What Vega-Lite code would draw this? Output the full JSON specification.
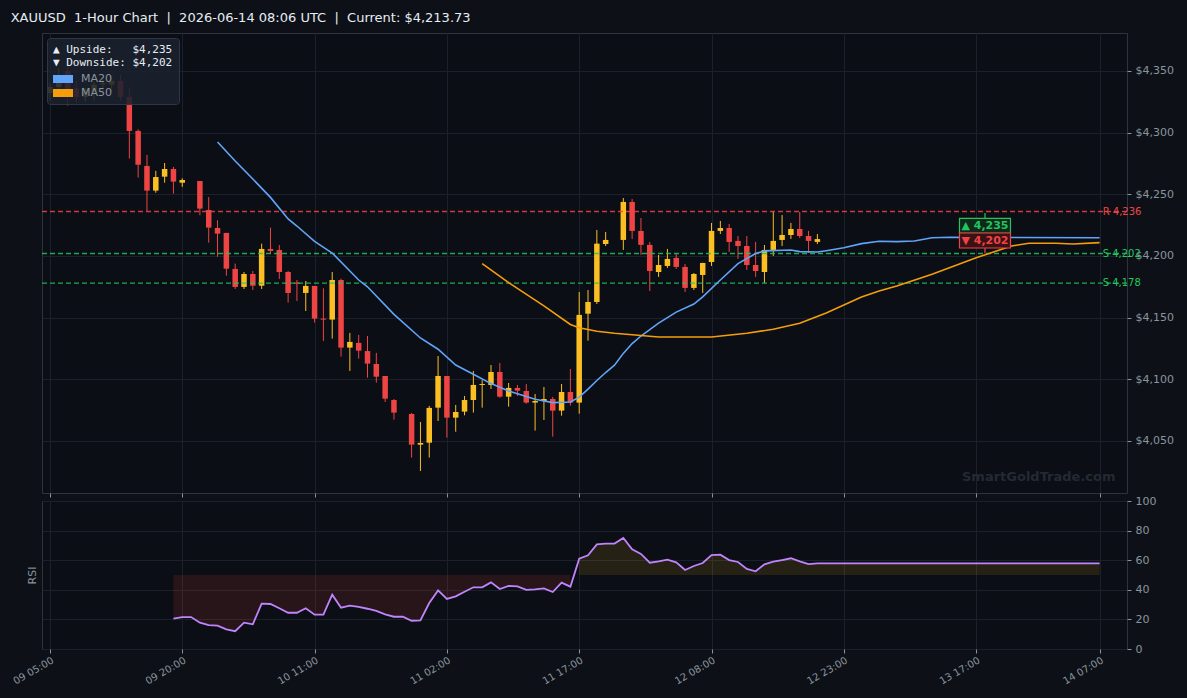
{
  "$schema": "https://vega.github.io/schema/vega-lite/v6.json",
  "background": "#0d1117",
  "padding": {"left": 10, "top": 11, "right": 13, "bottom": 11},
  "title": {"text": "XAUUSD\u00a0 1-Hour Chart\u00a0 |\u00a0 2026-06-14 08:06 UTC\u00a0 |\u00a0 Current: $4,213.73", "anchor": "start", "font": "DejaVu Sans", "fontSize": 13, "fontWeight": "normal", "color": "#e6edf3", "offset": 8},
  "config": {
    "font": "DejaVu Sans",
    "view": {"stroke": "#2d3440", "fill": "#0b0e14"},
    "axis": {"domain": false, "gridColor": "#1b212c", "gridWidth": 1, "tickColor": "#8b949e", "tickSize": 4, "labelColor": "#8b949e", "labelFont": "DejaVu Sans", "labelFontSize": 10, "titleColor": "#8b949e", "titleFont": "DejaVu Sans", "titleFontWeight": "normal"}
  },
  "datasets": {
    "candles": [
      {"i":0,"o":4332,"h":4340,"l":4326,"c":4337},
      {"i":1,"o":4337,"h":4352,"l":4330,"c":4345},
      {"i":2,"o":4350,"h":4358,"l":4322,"c":4330},
      {"i":3,"o":4336,"h":4342,"l":4324,"c":4329},
      {"i":4,"o":4329,"h":4336,"l":4325,"c":4334},
      {"i":5,"o":4333,"h":4341,"l":4326,"c":4339},
      {"i":6,"o":4339,"h":4343,"l":4333,"c":4340},
      {"i":7,"o":4339,"h":4346,"l":4333,"c":4342},
      {"i":8,"o":4342,"h":4347,"l":4326,"c":4329},
      {"i":9,"o":4329,"h":4336.5,"l":4279,"c":4301.4},
      {"i":10,"o":4301.4,"h":4302.7,"l":4263.5,"c":4274},
      {"i":11,"o":4273,"h":4282,"l":4236.5,"c":4253},
      {"i":12,"o":4253,"h":4269,"l":4251.3,"c":4264},
      {"i":13,"o":4264.3,"h":4275.4,"l":4259.4,"c":4270.5},
      {"i":14,"o":4270.5,"h":4272.2,"l":4250.5,"c":4260.3},
      {"i":15,"o":4259.4,"h":4263,"l":4256,"c":4261.6},
      {"i":17,"o":4260.8,"h":4260.8,"l":4233,"c":4238.4},
      {"i":18,"o":4237.3,"h":4247.8,"l":4210.8,"c":4223},
      {"i":19,"o":4222.7,"h":4228.9,"l":4199.4,"c":4218.1},
      {"i":20,"o":4218.7,"h":4218.7,"l":4184,"c":4189.7},
      {"i":21,"o":4189.5,"h":4193.8,"l":4173.2,"c":4174.9},
      {"i":22,"o":4174.9,"h":4187,"l":4173.2,"c":4185.4},
      {"i":23,"o":4185.4,"h":4187.8,"l":4172.4,"c":4175.9},
      {"i":24,"o":4175.9,"h":4210,"l":4173.2,"c":4205.7},
      {"i":25,"o":4205.7,"h":4223,"l":4201.9,"c":4204.1},
      {"i":26,"o":4204.9,"h":4208.9,"l":4181.4,"c":4187},
      {"i":27,"o":4187,"h":4187.8,"l":4162.2,"c":4170},
      {"i":28,"o":4178.5,"h":4180.5,"l":4163.5,"c":4177.5},
      {"i":29,"o":4170,"h":4179.7,"l":4155.4,"c":4175.7},
      {"i":30,"o":4175.7,"h":4175.7,"l":4146,"c":4149.2},
      {"i":31,"o":4149.2,"h":4173.8,"l":4131.1,"c":4148.4},
      {"i":32,"o":4148.4,"h":4187,"l":4133,"c":4180.5},
      {"i":33,"o":4180.5,"h":4181.6,"l":4118.4,"c":4125.7},
      {"i":34,"o":4125.7,"h":4137.6,"l":4106.8,"c":4130.3},
      {"i":35,"o":4129.5,"h":4136,"l":4116.7,"c":4123.2},
      {"i":36,"o":4122.9,"h":4135.1,"l":4101.3,"c":4112.7},
      {"i":37,"o":4112.4,"h":4121.4,"l":4097.3,"c":4102.1},
      {"i":38,"o":4102.7,"h":4102.7,"l":4081.6,"c":4084.3},
      {"i":39,"o":4083.2,"h":4084,"l":4067.3,"c":4073},
      {"i":41,"o":4071.9,"h":4072.7,"l":4036.5,"c":4047},
      {"i":42,"o":4047,"h":4065.4,"l":4025.7,"c":4048.4},
      {"i":43,"o":4048.6,"h":4078.4,"l":4036.5,"c":4076.8},
      {"i":44,"o":4077,"h":4118.9,"l":4066.2,"c":4102.7},
      {"i":45,"o":4102.7,"h":4102.7,"l":4052.7,"c":4068.9},
      {"i":46,"o":4068.9,"h":4079.2,"l":4057.5,"c":4073.5},
      {"i":47,"o":4073.8,"h":4086.5,"l":4070.8,"c":4083.2},
      {"i":48,"o":4083.2,"h":4106.8,"l":4073,"c":4095.4},
      {"i":49,"o":4095.4,"h":4099.3,"l":4077,"c":4096.2},
      {"i":50,"o":4095.4,"h":4111.6,"l":4092.2,"c":4105.9},
      {"i":51,"o":4105.9,"h":4113.2,"l":4085,"c":4085.9},
      {"i":52,"o":4085.9,"h":4097,"l":4077.8,"c":4093},
      {"i":53,"o":4093,"h":4095.4,"l":4086.5,"c":4090.8},
      {"i":54,"o":4090.5,"h":4096.2,"l":4080.2,"c":4081.1},
      {"i":55,"o":4081.1,"h":4088.1,"l":4058.4,"c":4082.4},
      {"i":56,"o":4082.4,"h":4093.8,"l":4067,"c":4084},
      {"i":57,"o":4084,"h":4085.7,"l":4053.5,"c":4074.6},
      {"i":58,"o":4074.6,"h":4096.2,"l":4070.5,"c":4089.7},
      {"i":59,"o":4089.7,"h":4108.4,"l":4078.6,"c":4081.1},
      {"i":60,"o":4081.1,"h":4170.8,"l":4072.1,"c":4152.2},
      {"i":61,"o":4153.2,"h":4172.4,"l":4131.3,"c":4162.7},
      {"i":62,"o":4162.7,"h":4221.1,"l":4161,"c":4210},
      {"i":63,"o":4209.7,"h":4219.5,"l":4208.1,"c":4213},
      {"i":65,"o":4213,"h":4247,"l":4204.9,"c":4243.8},
      {"i":66,"o":4243.8,"h":4246.2,"l":4213.8,"c":4220.3},
      {"i":67,"o":4220.3,"h":4230.8,"l":4200.8,"c":4209},
      {"i":68,"o":4209,"h":4211.4,"l":4171.6,"c":4187.8},
      {"i":69,"o":4187,"h":4200.8,"l":4183,"c":4192.7},
      {"i":70,"o":4191.9,"h":4205.7,"l":4190.3,"c":4197.6},
      {"i":71,"o":4198.4,"h":4201.6,"l":4189.5,"c":4191.1},
      {"i":72,"o":4191.1,"h":4193.5,"l":4170.8,"c":4174.1},
      {"i":73,"o":4174.1,"h":4186.2,"l":4172.4,"c":4185.4},
      {"i":74,"o":4184.6,"h":4194.5,"l":4170,"c":4194.3},
      {"i":75,"o":4195.1,"h":4226.8,"l":4191.9,"c":4220.3},
      {"i":76,"o":4220.3,"h":4228.4,"l":4217.8,"c":4222.7},
      {"i":77,"o":4222.7,"h":4226,"l":4203.3,"c":4211.4},
      {"i":78,"o":4212.2,"h":4216.2,"l":4197.6,"c":4208.1},
      {"i":79,"o":4208.1,"h":4216.2,"l":4188.7,"c":4192.7},
      {"i":80,"o":4192.7,"h":4211.4,"l":4183,"c":4187.8},
      {"i":81,"o":4187,"h":4208.9,"l":4178.1,"c":4204.9},
      {"i":82,"o":4204.9,"h":4236.5,"l":4200,"c":4212.2},
      {"i":83,"o":4213,"h":4233.2,"l":4208.1,"c":4217},
      {"i":84,"o":4217,"h":4226.8,"l":4213.8,"c":4221.9},
      {"i":85,"o":4221.9,"h":4235.7,"l":4214.6,"c":4216.2},
      {"i":86,"o":4216.2,"h":4220.3,"l":4202.4,"c":4212.2},
      {"i":87,"o":4211.4,"h":4217.8,"l":4209.7,"c":4213.7}
    ],
    "ma": [
      {"i":19,"s":"MA20","v":4292.4},{"i":21,"s":"MA20","v":4277},{"i":23,"s":"MA20","v":4262.4},{"i":25,"s":"MA20","v":4247.5},
      {"i":27,"s":"MA20","v":4230},{"i":28,"s":"MA20","v":4224.3},{"i":30,"s":"MA20","v":4211.8},{"i":32,"s":"MA20","v":4202.4},
      {"i":35,"s":"MA20","v":4180.5},{"i":36,"s":"MA20","v":4175},{"i":39,"s":"MA20","v":4152.7},{"i":42,"s":"MA20","v":4133.5},
      {"i":44,"s":"MA20","v":4124.4},{"i":46,"s":"MA20","v":4111.6},{"i":48,"s":"MA20","v":4104.1},{"i":50,"s":"MA20","v":4096.5},
      {"i":52,"s":"MA20","v":4090.5},{"i":55,"s":"MA20","v":4083.8},{"i":57,"s":"MA20","v":4081.1},{"i":59,"s":"MA20","v":4081.6},
      {"i":60,"s":"MA20","v":4085.5},{"i":61,"s":"MA20","v":4092},{"i":62,"s":"MA20","v":4099},{"i":63,"s":"MA20","v":4105.5},
      {"i":64,"s":"MA20","v":4111.4},{"i":65,"s":"MA20","v":4121},{"i":66,"s":"MA20","v":4129},{"i":67,"s":"MA20","v":4135.1},
      {"i":69,"s":"MA20","v":4145.5},{"i":71,"s":"MA20","v":4154.5},{"i":73,"s":"MA20","v":4161},{"i":74,"s":"MA20","v":4166.8},
      {"i":76,"s":"MA20","v":4180.5},{"i":78,"s":"MA20","v":4193.8},{"i":80,"s":"MA20","v":4202},{"i":81,"s":"MA20","v":4204.1},
      {"i":84,"s":"MA20","v":4204.9},{"i":85,"s":"MA20","v":4203.5},{"i":87,"s":"MA20","v":4203.2},{"i":88,"s":"MA20","v":4204.3},
      {"i":90,"s":"MA20","v":4206.7},{"i":92,"s":"MA20","v":4210},{"i":94,"s":"MA20","v":4211.9},{"i":96,"s":"MA20","v":4211.6},
      {"i":98,"s":"MA20","v":4212.2},{"i":100,"s":"MA20","v":4214.8},{"i":102,"s":"MA20","v":4215.2},{"i":119,"s":"MA20","v":4214.8},
      {"i":49,"s":"MA50","v":4193.8},{"i":52,"s":"MA50","v":4178.4},{"i":56,"s":"MA50","v":4159.5},{"i":59,"s":"MA50","v":4144.5},
      {"i":60,"s":"MA50","v":4141.8},{"i":62,"s":"MA50","v":4139},{"i":64,"s":"MA50","v":4137.3},{"i":69,"s":"MA50","v":4134.3},
      {"i":75,"s":"MA50","v":4134.3},{"i":79,"s":"MA50","v":4137.3},{"i":82,"s":"MA50","v":4140.6},{"i":85,"s":"MA50","v":4145.4},
      {"i":88,"s":"MA50","v":4153.8},{"i":92,"s":"MA50","v":4166.8},{"i":94,"s":"MA50","v":4171.6},{"i":96,"s":"MA50","v":4175.7},
      {"i":100,"s":"MA50","v":4185.2},{"i":105,"s":"MA50","v":4198.5},{"i":109,"s":"MA50","v":4208.1},{"i":111,"s":"MA50","v":4210.3},
      {"i":114,"s":"MA50","v":4210.3},{"i":116,"s":"MA50","v":4209.7},{"i":119,"s":"MA50","v":4210.8}
    ],
    "levels": [
      {"name":"R 4,236","v":4236,"kind":"R"},
      {"name":"S 4,202","v":4202,"kind":"S"},
      {"name":"S 4,178","v":4178,"kind":"S"}
    ],
    "targets": [
      {"t":"\u25b2 4,235","v":4235,"k":"up"},
      {"t":"\u25bc 4,202","v":4202,"k":"down"}
    ],
    "marks": [
      {"t":"SmartGoldTrade.com"}
    ],
    "rsi": [
      {"i":14,"r":20.5},{"i":15,"r":21.6},{"i":16,"r":21.6},{"i":17,"r":17.8},{"i":18,"r":16.2},{"i":19,"r":15.8},
      {"i":20,"r":13.3},{"i":21,"r":12.0},{"i":22,"r":17.8},{"i":23,"r":16.7},{"i":24,"r":30.6},{"i":25,"r":30.4},
      {"i":26,"r":27.5},{"i":27,"r":24.5},{"i":28,"r":24.5},{"i":29,"r":27.5},{"i":30,"r":23.2},{"i":31,"r":23.2},
      {"i":32,"r":36.7},{"i":33,"r":27.9},{"i":34,"r":29.3},{"i":35,"r":28.4},{"i":36,"r":27.2},{"i":37,"r":25.7},
      {"i":38,"r":23.4},{"i":39,"r":21.8},{"i":40,"r":21.8},{"i":41,"r":19.1},{"i":42,"r":19.4},{"i":43,"r":31.1},
      {"i":44,"r":39.6},{"i":45,"r":33.8},{"i":46,"r":35.6},{"i":47,"r":38.7},{"i":48,"r":41.7},{"i":49,"r":41.7},
      {"i":50,"r":45.0},{"i":51,"r":40.5},{"i":52,"r":42.6},{"i":53,"r":42.3},{"i":54,"r":39.9},{"i":55,"r":40.3},
      {"i":56,"r":41.0},{"i":57,"r":38.5},{"i":58,"r":44.8},{"i":59,"r":42.1},{"i":60,"r":61.0},{"i":61,"r":63.3},
      {"i":62,"r":70.7},{"i":63,"r":71.2},{"i":64,"r":71.2},{"i":65,"r":75.0},{"i":66,"r":67.3},{"i":67,"r":64.2},
      {"i":68,"r":58.3},{"i":69,"r":59.2},{"i":70,"r":60.4},{"i":71,"r":58.6},{"i":72,"r":53.4},{"i":73,"r":56.1},
      {"i":74,"r":58.1},{"i":75,"r":63.5},{"i":76,"r":63.7},{"i":77,"r":60.1},{"i":78,"r":58.8},{"i":79,"r":54.1},
      {"i":80,"r":52.5},{"i":81,"r":57.2},{"i":82,"r":59.0},{"i":83,"r":60.1},{"i":84,"r":61.3},{"i":85,"r":59.2},
      {"i":86,"r":57.4},{"i":87,"r":57.8},{"i":119,"r":57.8}
    ]
  },
  "spacing": 8,
  "bounds": "flush",
  "vconcat": [
    {
      "width": 1085,
      "height": 460,
      "layer": [
        {
          "data": {"name": "marks"},
          "mark": {"type": "text", "align": "right", "baseline": "middle", "fontSize": 13, "fontWeight": "bold", "color": "#232a33"},
          "encoding": {"x": {"datum": 120.8}, "y": {"datum": 4021}, "text": {"field": "t"}}
        },
        {
          "data": {"name": "candles"},
          "mark": {"type": "rule", "strokeWidth": 1},
          "encoding": {
            "x": {"field": "i", "type": "quantitative", "scale": {"domain": [-0.9, 122.1], "nice": false, "zero": false, "padding": 0},
                  "axis": {"values": [0,15,30,45,60,75,90,105,119], "labels": false, "grid": true, "title": null, "tickSize": 4}},
            "y": {"field": "l", "type": "quantitative", "scale": {"domain": [4007.8, 4380.8], "nice": false, "zero": false, "padding": 0},
                  "axis": {"orient": "right", "values": [4050,4100,4150,4200,4250,4300,4350], "format": "$,.0f", "grid": true, "title": null, "labelFontSize": 11, "labelPadding": 4}},
            "y2": {"field": "h"},
            "color": {"condition": {"test": "datum.c >= datum.o", "value": "#fbbf24"}, "value": "#ef4444"}
          }
        },
        {
          "data": {"name": "candles"},
          "mark": {"type": "bar", "size": 5.5},
          "encoding": {
            "x": {"field": "i", "type": "quantitative"},
            "y": {"field": "o", "type": "quantitative"},
            "y2": {"field": "c"},
            "color": {"condition": {"test": "datum.c >= datum.o", "value": "#fbbf24"}, "value": "#ef4444"}
          }
        },
        {
          "data": {"name": "levels"},
          "mark": {"type": "rule", "strokeDash": [5, 3], "strokeWidth": 1.4, "opacity": 0.85},
          "encoding": {
            "y": {"field": "v", "type": "quantitative"},
            "color": {"condition": {"test": "datum.kind == 'R'", "value": "#ef4444"}, "value": "#22c55e"}
          }
        },
        {
          "data": {"name": "ma"},
          "mark": {"type": "line", "strokeWidth": 1.6},
          "encoding": {
            "x": {"field": "i", "type": "quantitative"},
            "y": {"field": "v", "type": "quantitative"},
            "color": {"field": "s", "type": "nominal",
                      "scale": {"domain": ["MA20", "MA50"], "range": ["#60a5fa", "#f59e0b"]},
                      "legend": {"orient": "top-left", "offset": 5,
                                 "title": ["\u25b2 Upside:\u00a0\u00a0\u00a0$4,235", "\u25bc Downside:\u00a0$4,202"],
                                 "titleFont": "DejaVu Sans Mono", "titleFontSize": 11, "titleFontWeight": "normal", "titleColor": "#e6edf3", "titleLineHeight": 13, "titlePadding": 5,
                                 "labelColor": "#8b949e", "labelFontSize": 11, "labelFont": "DejaVu Sans", "labelOffset": 16,
                                 "symbolType": "M-1,-0.667H2.333V0.667H-1Z", "symbolSize": 144, "symbolStrokeWidth": 0, "symbolOpacity": 1,
                                 "fillColor": "rgba(26,33,45,0.88)", "strokeColor": "#2d3748", "padding": 6, "cornerRadius": 3, "rowPadding": 3,
                                 "encode": {"symbols": {"update": {"fill": {"scale": "color", "field": "value"}, "strokeWidth": {"value": 0}}}}}}
          }
        },
        {
          "data": {"name": "levels"},
          "mark": {"type": "text", "align": "left", "baseline": "middle", "dx": 3, "fontSize": 10},
          "encoding": {
            "x": {"datum": 119},
            "y": {"field": "v", "type": "quantitative"},
            "text": {"field": "name"},
            "color": {"condition": {"test": "datum.kind == 'R'", "value": "#ef4444"}, "value": "#22c55e"}
          }
        },
        {
          "data": {"name": "targets"},
          "transform": [{"filter": "datum.k == 'up'"}],
          "mark": {"type": "point", "shape": "M-1,-0.294H1V0.294H-1Z M0,-0.294V-0.5", "size": 2601, "filled": true, "fill": "#0f2a1c", "stroke": "#22c55e", "strokeWidth": 1.2, "opacity": 1, "yOffset": 13},
          "encoding": {"x": {"datum": 106}, "y": {"field": "v", "type": "quantitative"}}
        },
        {
          "data": {"name": "targets"},
          "transform": [{"filter": "datum.k == 'up'"}],
          "mark": {"type": "text", "align": "center", "baseline": "middle", "dy": 13, "fontSize": 11, "fontWeight": "bold", "color": "#22c55e"},
          "encoding": {"x": {"datum": 106}, "y": {"field": "v", "type": "quantitative"}, "text": {"field": "t"}}
        },
        {
          "data": {"name": "targets"},
          "transform": [{"filter": "datum.k == 'down'"}],
          "mark": {"type": "point", "shape": "M-1,-0.294H1V0.294H-1Z M0,0.294V0.5", "size": 2601, "filled": true, "fill": "#3a1215", "stroke": "#ef4444", "strokeWidth": 1.2, "opacity": 1, "yOffset": -13},
          "encoding": {"x": {"datum": 106}, "y": {"field": "v", "type": "quantitative"}}
        },
        {
          "data": {"name": "targets"},
          "transform": [{"filter": "datum.k == 'down'"}],
          "mark": {"type": "text", "align": "center", "baseline": "middle", "dy": -13, "fontSize": 11, "fontWeight": "bold", "color": "#ef4444"},
          "encoding": {"x": {"datum": 106}, "y": {"field": "v", "type": "quantitative"}, "text": {"field": "t"}}
        }
      ]
    },
    {
      "width": 1085,
      "height": 148,
      "resolve": {"axis": {"y": "independent"}},
      "layer": [
        {
          "data": {"name": "rsi"},
          "transform": [{"filter": "datum.i <= 59"}],
          "mark": {"type": "area", "color": "#ef4444", "opacity": 0.13},
          "encoding": {
            "x": {"field": "i", "type": "quantitative", "scale": {"domain": [-0.9, 122.1], "nice": false, "zero": false, "padding": 0},
                  "axis": {"values": [0,15,30,45,60,75,90,105,119], "grid": true, "title": null, "tickSize": 4, "labelAngle": -30, "labelFontSize": 10, "labelPadding": 2,
                           "labelExpr": "datum.value == 0 ? '09 05:00' : datum.value == 15 ? '09 20:00' : datum.value == 30 ? '10 11:00' : datum.value == 45 ? '11 02:00' : datum.value == 60 ? '11 17:00' : datum.value == 75 ? '12 08:00' : datum.value == 90 ? '12 23:00' : datum.value == 105 ? '13 17:00' : '14 07:00'"}},
            "y": {"field": "r", "type": "quantitative", "scale": {"domain": [0, 100], "nice": false},
                  "axis": {"orient": "left", "labels": false, "ticks": false, "grid": false, "title": "RSI", "titleFontSize": 11, "titlePadding": 5}},
            "y2": {"datum": 50}
          }
        },
        {
          "data": {"name": "rsi"},
          "transform": [{"filter": "datum.i >= 60"}],
          "mark": {"type": "area", "color": "#fbbf24", "opacity": 0.11},
          "encoding": {
            "x": {"field": "i", "type": "quantitative"},
            "y": {"field": "r", "type": "quantitative",
                  "axis": {"orient": "right", "values": [0,20,40,60,80,100], "grid": true, "title": null, "labelFontSize": 11, "labelPadding": 4}},
            "y2": {"datum": 50}
          }
        },
        {
          "mark": {"type": "rule", "color": "#3b4350", "strokeWidth": 1},
          "encoding": {"y": {"datum": 50, "axis": null}}
        },
        {
          "mark": {"type": "rule", "color": "#ef4444", "strokeWidth": 1, "strokeDash": [4, 2], "opacity": 0.7},
          "encoding": {"y": {"datum": 70, "axis": null}}
        },
        {
          "mark": {"type": "rule", "color": "#22c55e", "strokeWidth": 1, "strokeDash": [4, 2], "opacity": 0.7},
          "encoding": {"y": {"datum": 30, "axis": null}}
        },
        {
          "data": {"name": "rsi"},
          "mark": {"type": "line", "color": "#c084fc", "strokeWidth": 1.8},
          "encoding": {
            "x": {"field": "i", "type": "quantitative"},
            "y": {"field": "r", "type": "quantitative", "axis": null}
          }
        },
        {
          "mark": {"type": "text", "text": "57.8", "align": "left", "baseline": "middle", "dx": 5, "fontSize": 10, "color": "#c084fc"},
          "encoding": {"x": {"datum": 119}, "y": {"datum": 57.8, "axis": null}}
        },
        {
          "mark": {"type": "text", "text": "OB", "align": "left", "baseline": "bottom", "dy": -1, "fontSize": 9, "color": "#ef4444"},
          "encoding": {"x": {"datum": 122.1}, "y": {"datum": 70, "axis": null}}
        },
        {
          "mark": {"type": "text", "text": "OS", "align": "left", "baseline": "bottom", "dy": -1, "fontSize": 9, "color": "#22c55e"},
          "encoding": {"x": {"datum": 122.1}, "y": {"datum": 30, "axis": null}}
        }
      ]
    }
  ]
}
